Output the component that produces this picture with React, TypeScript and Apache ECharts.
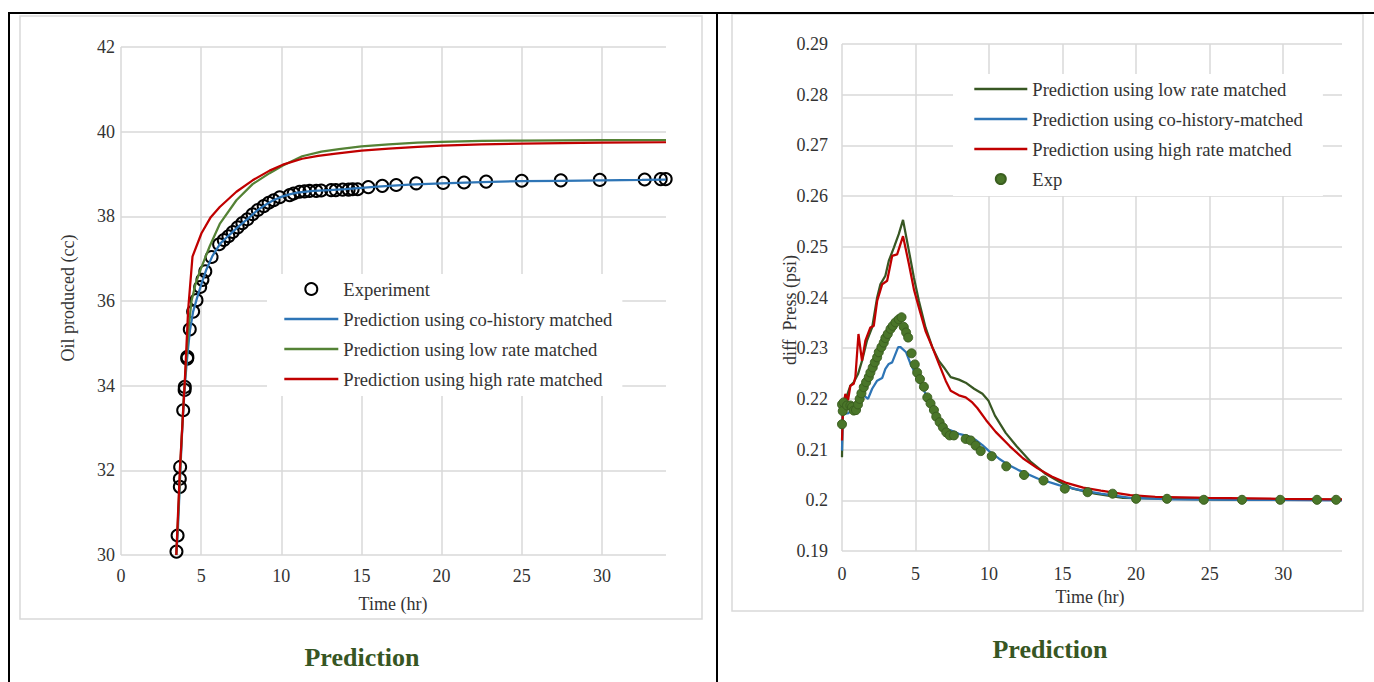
import { useEffect, useRef } from 'react';
import * as echarts from 'echarts';

const FONT = "'Liberation Serif', 'Times New Roman', serif";
const TEXT = '#333333';
const GRID = '#d9d9d9';

// ---------- Left chart: Oil produced (cc) vs Time (hr) ----------
const leftNames = [
  'Experiment',
  'Prediction using co-history matched',
  'Prediction using low rate matched',
  'Prediction using high rate matched',
];
const leftYTicks = { min: 30, max: 42, interval: 2 };
const leftExperiment = [
  [3.46, 30.08], [3.53, 30.46], [3.67, 31.61], [3.67, 31.8], [3.69, 32.08], [3.88, 33.42], [3.97, 33.9], [3.98, 33.97],
  [4.13, 34.64], [4.14, 34.68], [4.29, 35.33], [4.5, 35.75], [4.71, 36.02], [4.94, 36.33], [5.08, 36.5], [5.26, 36.7],
  [5.65, 37.04], [6.12, 37.34], [6.41, 37.44], [6.7, 37.53], [6.97, 37.63], [7.28, 37.74], [7.57, 37.84], [7.88, 37.93],
  [8.21, 38.05], [8.53, 38.15], [8.9, 38.24], [9.21, 38.32], [9.52, 38.38], [9.9, 38.45], [10.52, 38.5], [10.77, 38.54],
  [11.14, 38.58], [11.45, 38.59], [11.76, 38.6], [12.18, 38.6], [12.49, 38.61], [13.11, 38.62], [13.4, 38.62],
  [13.83, 38.63], [14.2, 38.63], [14.45, 38.64], [14.76, 38.64], [15.43, 38.69], [16.3, 38.72], [17.17, 38.74],
  [18.42, 38.78], [20.1, 38.79], [21.4, 38.8], [22.78, 38.82], [25.0, 38.84], [27.44, 38.85], [29.87, 38.86],
  [32.67, 38.87], [33.67, 38.88], [33.98, 38.88],
];
const leftCoHistory = [
  [3.45, 30.0], [3.55, 30.6], [3.65, 31.5], [3.75, 32.4], [3.85, 33.2], [4.0, 34.1], [4.15, 34.75], [4.3, 35.3],
  [4.5, 35.75], [4.75, 36.08], [5.0, 36.38], [5.3, 36.72], [5.7, 37.06], [6.2, 37.36], [6.7, 37.54], [7.3, 37.75],
  [7.9, 37.94], [8.5, 38.14], [9.0, 38.27], [9.5, 38.38], [10.0, 38.46], [10.5, 38.52], [11.0, 38.56], [12.0, 38.6],
  [13.0, 38.62], [14.0, 38.64], [15.0, 38.67], [16.0, 38.7], [18.0, 38.75], [20.0, 38.78], [22.5, 38.81],
  [25.0, 38.83], [27.5, 38.84], [30.0, 38.85], [32.5, 38.86], [34.0, 38.87],
];
const leftLowRate = [
  [3.45, 30.0], [3.6, 31.2], [3.75, 32.5], [3.9, 33.6], [4.05, 34.5], [4.2, 35.3], [4.4, 36.0], [4.65, 36.4],
  [4.92, 36.7], [5.54, 37.3], [6.16, 37.82], [7.2, 38.38], [8.21, 38.76], [9.27, 39.02], [10.1, 39.2], [11.3, 39.42],
  [12.5, 39.53], [13.6, 39.59], [15.0, 39.65], [16.7, 39.7], [18.5, 39.74], [20.0, 39.76], [22.5, 39.78],
  [25.0, 39.79], [30.0, 39.8], [34.0, 39.8],
];
const leftHighRate = [
  [3.45, 30.0], [3.67, 32.0], [3.98, 34.1], [4.19, 35.8], [4.46, 37.05], [5.02, 37.6], [5.6, 37.98], [6.16, 38.22],
  [7.2, 38.58], [8.21, 38.85], [9.27, 39.08], [10.1, 39.22], [11.3, 39.36], [12.3, 39.43], [13.4, 39.48],
  [15.0, 39.55], [16.7, 39.6], [18.5, 39.64], [20.0, 39.67], [22.5, 39.7], [25.0, 39.72], [30.0, 39.74], [34.0, 39.75],
];

// ---------- Right chart: diff Press (psi) vs Time (hr) ----------
const rightNames = [
  'Prediction using low rate matched',
  'Prediction using co-history-matched',
  'Prediction using high rate matched',
  'Exp',
];
const rightYTicks = { min: 0.19, max: 0.29, interval: 0.01 };
const rightLowRate = [
  [0, 0.2085], [0.05, 0.219], [0.23, 0.2197], [0.57, 0.2226], [0.8, 0.2233], [1.09, 0.2249], [1.36, 0.2275],
  [1.7, 0.2315], [2.05, 0.2341], [2.39, 0.24], [2.61, 0.2426], [2.95, 0.2443], [3.18, 0.2472], [3.52, 0.2498],
  [3.86, 0.2525], [4.15, 0.2553], [4.55, 0.2492], [4.89, 0.2439], [5.23, 0.2393], [5.68, 0.2341], [6.14, 0.2302],
  [6.59, 0.2275], [6.93, 0.2262], [7.39, 0.2243], [7.95, 0.2238], [8.41, 0.2232], [8.98, 0.222], [9.55, 0.221],
  [9.95, 0.2197], [10.4, 0.2167], [11.13, 0.2133], [11.86, 0.2107], [12.8, 0.2077], [13.8, 0.2053], [14.75, 0.2037],
  [15.7, 0.2023], [17.2, 0.2013], [19.1, 0.2005], [22.5, 0.2003], [27.3, 0.2001], [34, 0.2001],
];
const rightCoHistory = [
  [0, 0.2098], [0.05, 0.217], [0.45, 0.2172], [0.7, 0.218], [0.91, 0.2177], [1.14, 0.2197], [1.48, 0.2207],
  [1.77, 0.22], [2.05, 0.222], [2.39, 0.2236], [2.73, 0.2241], [2.95, 0.2259], [3.18, 0.2269], [3.41, 0.2272],
  [3.82, 0.2302], [3.98, 0.2302], [4.36, 0.2292], [4.66, 0.2269], [5.0, 0.2249], [5.34, 0.223], [5.68, 0.221],
  [6.14, 0.2184], [6.59, 0.2157], [7.05, 0.2141], [7.39, 0.2138], [7.95, 0.2131], [8.64, 0.2126], [9.09, 0.2119],
  [9.55, 0.2109], [10.0, 0.2097], [10.68, 0.2082], [11.36, 0.2069], [12.05, 0.2059], [13.3, 0.2043],
  [14.75, 0.203], [16.2, 0.202], [17.6, 0.2013], [19.6, 0.2005], [22.5, 0.2002], [27.3, 0.2001], [34, 0.2],
];
const rightHighRate = [
  [0, 0.2118], [0.07, 0.2184], [0.23, 0.221], [0.41, 0.2197], [0.57, 0.2226], [0.8, 0.223], [0.91, 0.2243],
  [1.12, 0.2328], [1.36, 0.2275], [1.59, 0.2315], [1.93, 0.2341], [2.16, 0.2344], [2.39, 0.2393], [2.73, 0.2426],
  [3.07, 0.2433], [3.41, 0.2482], [3.75, 0.2485], [4.15, 0.2521], [4.55, 0.2466], [4.89, 0.2416], [5.23, 0.238],
  [5.68, 0.2334], [6.14, 0.2302], [6.59, 0.2269], [7.05, 0.2236], [7.39, 0.2216], [7.95, 0.2207], [8.41, 0.2203],
  [8.86, 0.2193], [9.2, 0.2182], [9.8, 0.2158], [10.45, 0.2135], [11.4, 0.2107], [12.3, 0.2083], [13.3, 0.2063],
  [14.26, 0.2047], [15.2, 0.2035], [16.4, 0.2025], [17.6, 0.2019], [19.6, 0.201], [21.3, 0.2007], [24.9, 0.2005],
  [29.7, 0.2003], [34, 0.2002],
];
const rightExp = [
  [0, 0.215], [0, 0.2189], [0.05, 0.2176], [0.11, 0.2193], [0.34, 0.2187], [0.57, 0.2187], [0.68, 0.2184],
  [0.8, 0.2177], [0.95, 0.2178], [1.09, 0.2189], [1.2, 0.22], [1.32, 0.2211], [1.48, 0.2223], [1.64, 0.2233],
  [1.82, 0.2243], [1.93, 0.2252], [2.09, 0.2262], [2.23, 0.2272], [2.39, 0.2282], [2.5, 0.2292], [2.68, 0.2302],
  [2.84, 0.2311], [2.95, 0.232], [3.11, 0.2328], [3.3, 0.2338], [3.45, 0.2344], [3.64, 0.2351], [3.86, 0.2357],
  [4.05, 0.2361], [4.2, 0.2342], [4.36, 0.2331], [4.5, 0.2321], [4.73, 0.229], [4.95, 0.2268], [5.11, 0.2252],
  [5.3, 0.2239], [5.57, 0.2224], [5.8, 0.2203], [6.02, 0.2191], [6.25, 0.2178], [6.41, 0.2165], [6.64, 0.2154],
  [6.86, 0.2144], [7.09, 0.2134], [7.32, 0.2128], [7.61, 0.2128], [8.41, 0.2121], [8.75, 0.2118], [9.09, 0.2108],
  [9.43, 0.2097], [10.18, 0.2087], [11.17, 0.2067], [12.38, 0.205], [13.7, 0.2039], [15.15, 0.2023], [16.7, 0.2016],
  [18.4, 0.2013], [20.0, 0.2003], [22.1, 0.2003], [24.6, 0.2001], [27.2, 0.2001], [29.8, 0.2001], [32.3, 0.2001],
  [33.6, 0.2001],
];
const xTicks = { min: 0, max: 34, interval: 5 };

const txt = (text: string, x: number, y: number, size: number, extra: any = {}) => ({
  type: 'text',
  x,
  y,
  silent: true,
  z: 10,
  ...extra,
  style: {
    text,
    fontSize: size,
    fontFamily: FONT,
    fontWeight: extra.bold ? 'bold' : 'normal',
    fill: extra.fill || TEXT,
    align: 'center',
    textAlign: 'center',
    verticalAlign: 'middle',
    textVerticalAlign: 'middle',
  },
});

const blackLine = (x1: number, y1: number, x2: number, y2: number) => ({
  type: 'line',
  silent: true,
  z: 20,
  shape: { x1, y1, x2, y2 },
  style: { stroke: '#000', lineWidth: 2 },
});

const xAxisBase = (margin: number) => ({
  type: 'value',
  ...xTicks,
  axisLine: { show: false },
  axisTick: { show: false },
  axisLabel: {
    fontSize: 18,
    fontFamily: FONT,
    color: TEXT,
    margin,
    formatter: (v: number) => (v % 5 === 0 ? String(v) : ''),
  },
  splitLine: { show: true, showMaxLine: false, lineStyle: { color: GRID, width: 1.5 } },
});

const legendBase = {
  orient: 'vertical',
  backgroundColor: '#ffffff',
  itemGap: 10,
  textStyle: { fontFamily: FONT, fontSize: 18.6, color: TEXT, lineHeight: 20 },
  selectedMode: false,
  z: 8,
};

// line entries in a legend: keep a thick line, hide the symbol dot
const lineEntry = (name: string) => ({ name, itemStyle: { opacity: 0 }, lineStyle: { width: 2.6 } });

const lineSeries = (name: string, data: number[][], color: string) => ({
  name,
  type: 'line',
  data,
  symbol: 'none',
  showSymbol: false,
  lineStyle: { color, width: 2.25 },
  itemStyle: { color },
  z: 3,
});

function leftOption(): any {
  return {
    animation: false,
    textStyle: { fontFamily: FONT },
    grid: { left: 121, top: 47, width: 545, height: 508 },
    xAxis: xAxisBase(12),
    yAxis: {
      type: 'value',
      ...leftYTicks,
      axisLine: { show: false },
      axisTick: { show: false },
      axisLabel: { fontSize: 18, fontFamily: FONT, color: TEXT, margin: 6 },
      splitLine: { show: true, lineStyle: { color: GRID, width: 1.5 } },
    },
    legend: {
      ...legendBase,
      left: 267,
      top: 274,
      padding: [5, 10, 7, 16],
      itemWidth: 54,
      itemHeight: 12,
      data: [{ name: leftNames[0] }, lineEntry(leftNames[1]), lineEntry(leftNames[2]), lineEntry(leftNames[3])],
    },
    graphic: [
      {
        type: 'rect',
        silent: true,
        z: -5,
        shape: { x: 20, y: 16, width: 682, height: 603 },
        style: { fill: 'none', stroke: GRID, lineWidth: 1.5 },
      },
      blackLine(8, 13, 718, 13),
      blackLine(9, 13, 9, 682),
      blackLine(717, 13, 717, 682),
      txt('Oil produced (cc)', 68, 298, 18, { rotation: Math.PI / 2 }),
      txt('Time (hr)', 393, 604, 18),
      txt('Prediction', 362, 657, 26, { bold: true, fill: '#375623' }),
    ],
    series: [
      {
        name: leftNames[0],
        type: 'scatter',
        data: leftExperiment,
        symbol: 'circle',
        symbolSize: 12,
        itemStyle: { color: 'rgba(255,255,255,0)', borderColor: '#000', borderWidth: 2, opacity: 1 },
        z: 2,
      },
      lineSeries(leftNames[1], leftCoHistory, '#2e75b6'),
      lineSeries(leftNames[2], leftLowRate, '#548235'),
      lineSeries(leftNames[3], leftHighRate, '#c00000'),
    ],
  };
}

function rightOption(): any {
  return {
    animation: false,
    textStyle: { fontFamily: FONT },
    grid: { left: 124, top: 44, width: 500, height: 507 },
    xAxis: xAxisBase(14),
    yAxis: {
      type: 'value',
      ...rightYTicks,
      axisLine: { show: false },
      axisTick: { show: false },
      axisLabel: {
        fontSize: 18,
        fontFamily: FONT,
        color: TEXT,
        margin: 14,
        formatter: (v: number) => String(parseFloat(v.toFixed(2))),
      },
      splitLine: { show: true, lineStyle: { color: GRID, width: 1.5 } },
    },
    legend: {
      ...legendBase,
      left: 235,
      top: 74,
      padding: [5, 20, 7, 20],
      itemWidth: 53,
      itemHeight: 10,
      data: [lineEntry(rightNames[0]), lineEntry(rightNames[1]), lineEntry(rightNames[2]), { name: rightNames[3] }],
    },
    graphic: [
      {
        type: 'rect',
        silent: true,
        z: -5,
        shape: { x: 14, y: 14, width: 631, height: 597 },
        style: { fill: 'none', stroke: GRID, lineWidth: 1.5 },
      },
      blackLine(0, 13, 656, 13),
      txt('diff\u00a0\u00a0Press (psi)', 72, 310, 18, { rotation: Math.PI / 2 }),
      txt('Time (hr)', 372, 597, 18),
      txt('Prediction', 332, 649, 26, { bold: true, fill: '#375623' }),
    ],
    series: [
      lineSeries(rightNames[0], rightLowRate, '#385723'),
      lineSeries(rightNames[1], rightCoHistory, '#2e75b6'),
      lineSeries(rightNames[2], rightHighRate, '#c00000'),
      {
        name: rightNames[3],
        type: 'scatter',
        data: rightExp,
        symbol: 'circle',
        symbolSize: 9,
        itemStyle: { color: '#4a7629', borderColor: '#3b5f20', borderWidth: 1, opacity: 1 },
        z: 5,
      },
    ],
  };
}

export default function App() {
  const leftRef = useRef<HTMLDivElement>(null);
  const rightRef = useRef<HTMLDivElement>(null);
  useEffect(() => {
    const l = echarts.init(leftRef.current!, undefined, { renderer: 'svg' });
    l.setOption(leftOption());
    const r = echarts.init(rightRef.current!, undefined, { renderer: 'svg' });
    r.setOption(rightOption());
    return () => {
      l.dispose();
      r.dispose();
    };
  }, []);
  return (
    <div style={{ position: 'fixed', left: 0, top: 0, width: 1374, height: 682, background: '#fff' }}>
      <div ref={leftRef} style={{ position: 'absolute', left: 0, top: 0, width: 718, height: 682 }} />
      <div ref={rightRef} style={{ position: 'absolute', left: 718, top: 0, width: 656, height: 682 }} />
    </div>
  );
}
